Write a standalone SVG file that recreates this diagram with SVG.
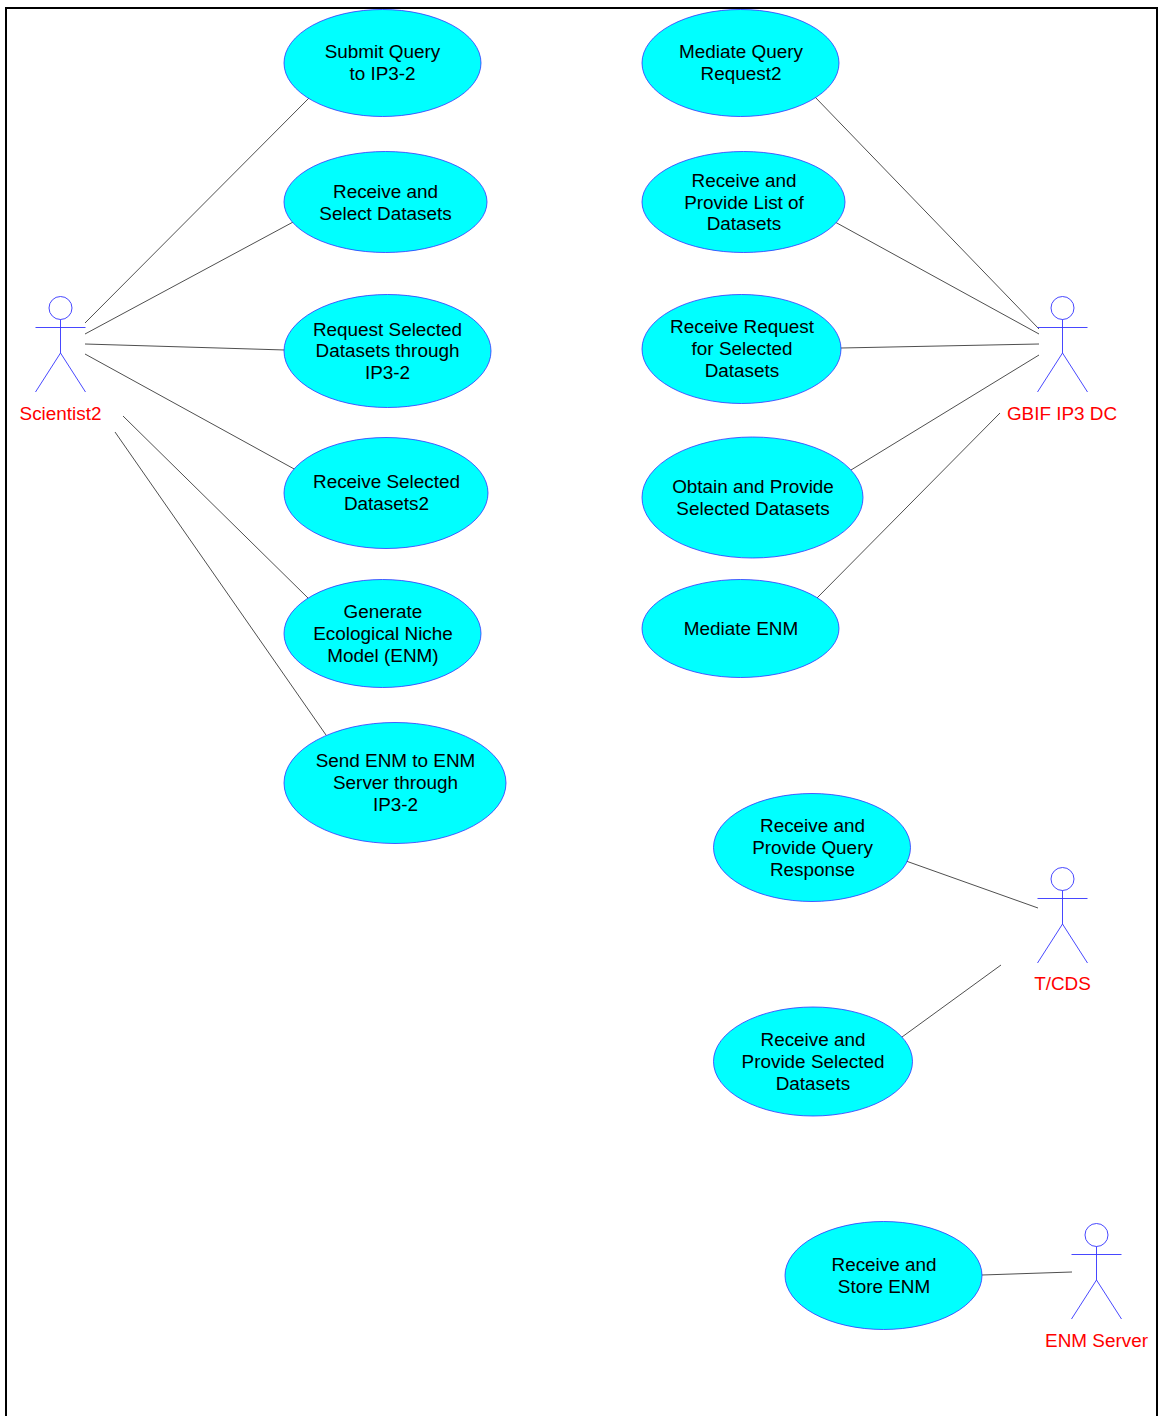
<svg xmlns="http://www.w3.org/2000/svg" width="1173" height="1416" viewBox="0 0 1173 1416">
<style>
.uc{fill:#00ffff;stroke:#3333ff;stroke-width:.8}
.t{font-family:"Liberation Sans",Arial,sans-serif;font-size:18.900px;fill:#000;text-anchor:middle}
.a{font-family:"Liberation Sans",Arial,sans-serif;font-size:18.900px;fill:#ff0000;text-anchor:middle}
.s{fill:none;stroke:#3333ff;stroke-width:.9}
.c{stroke:#222;stroke-width:.8;fill:none}
</style>
<defs>
<g id="stick"><circle class="s" cx="0" cy="0" r="11.500"/><path class="s" d="M0 11.500V45M-25 19.500H25M-25 84L0 45L25 84"/></g>
</defs>
<rect width="1173" height="1416" fill="#fff"/>
<path d="M6 1416V8H1157V1416" fill="none" stroke="#000" stroke-width="2"/>
<g id="connectors">
<path class="c" d="M85 323L310 97M85 334L295 221M85 344L285 350M85 354L296 470M123 416L308 598M115 432L326 735"/>
<path class="c" d="M815 97L1039 329M835 222L1039 334M841 348L1039 344M851 470L1039 355M817 598L1000 413"/>
<path class="c" d="M906 861L1038 908M902 1037L1001 965M982 1275L1072 1272"/>
</g>
<g id="scientist2"><use href="#stick" x="60.500" y="308"/><text class="a" x="60.500" y="420">Scientist2</text></g>
<g id="gbif"><use href="#stick" x="1062.500" y="308"/><text class="a" x="1062" y="420">GBIF IP3 DC</text></g>
<g id="tcds"><use href="#stick" x="1062.500" y="879"/><text class="a" x="1062.500" y="990">T/CDS</text></g>
<g id="enm-server"><use href="#stick" x="1096.500" y="1235"/><text class="a" x="1096.500" y="1347">ENM Server</text></g>
<g id="uc1"><ellipse class="uc" cx="382.500" cy="63" rx="98.500" ry="53.500"/><text class="t" x="382.500" y="58">Submit Query</text><text class="t" x="382.500" y="80">to IP3-2</text></g>
<g id="uc2"><ellipse class="uc" cx="385.500" cy="202" rx="101.500" ry="50.500"/><text class="t" x="385.500" y="198">Receive and</text><text class="t" x="385.500" y="220">Select Datasets</text></g>
<g id="uc3"><ellipse class="uc" cx="387.500" cy="351" rx="103.500" ry="56.500"/><text class="t" x="387.500" y="336">Request Selected</text><text class="t" x="387.500" y="357">Datasets through</text><text class="t" x="387.500" y="379">IP3-2</text></g>
<g id="uc4"><ellipse class="uc" cx="386" cy="493" rx="102" ry="55.500"/><text class="t" x="386.500" y="488">Receive Selected</text><text class="t" x="386.500" y="510">Datasets2</text></g>
<g id="uc5"><ellipse class="uc" cx="382.500" cy="633.500" rx="98.500" ry="54"/><text class="t" x="383" y="618">Generate</text><text class="t" x="383" y="640">Ecological Niche</text><text class="t" x="383" y="662">Model (ENM)</text></g>
<g id="uc6"><ellipse class="uc" cx="395" cy="783" rx="111" ry="60.500"/><text class="t" x="395.500" y="767">Send ENM to ENM</text><text class="t" x="395.500" y="789">Server through</text><text class="t" x="395.500" y="811">IP3-2</text></g>
<g id="uc7"><ellipse class="uc" cx="740.500" cy="63" rx="98.500" ry="53.500"/><text class="t" x="741" y="58">Mediate Query</text><text class="t" x="741" y="80">Request2</text></g>
<g id="uc8"><ellipse class="uc" cx="743.500" cy="202" rx="101.500" ry="50.500"/><text class="t" x="744" y="187">Receive and</text><text class="t" x="744" y="209">Provide List of</text><text class="t" x="744" y="230">Datasets</text></g>
<g id="uc9"><ellipse class="uc" cx="741.500" cy="349" rx="99.500" ry="54.500"/><text class="t" x="742" y="333">Receive Request</text><text class="t" x="742" y="355">for Selected</text><text class="t" x="742" y="377">Datasets</text></g>
<g id="uc10"><ellipse class="uc" cx="752.500" cy="497.500" rx="110.500" ry="60.500"/><text class="t" x="753" y="493">Obtain and Provide</text><text class="t" x="753" y="515">Selected Datasets</text></g>
<g id="uc11"><ellipse class="uc" cx="740.500" cy="628.500" rx="98.500" ry="49"/><text class="t" x="741" y="635">Mediate ENM</text></g>
<g id="uc12"><ellipse class="uc" cx="812" cy="847.500" rx="98.500" ry="54"/><text class="t" x="812.500" y="832">Receive and</text><text class="t" x="812.500" y="854">Provide Query</text><text class="t" x="812.500" y="876">Response</text></g>
<g id="uc13"><ellipse class="uc" cx="813" cy="1061.500" rx="99.500" ry="54.500"/><text class="t" x="813" y="1046">Receive and</text><text class="t" x="813" y="1068">Provide Selected</text><text class="t" x="813" y="1090">Datasets</text></g>
<g id="uc14"><ellipse class="uc" cx="883.500" cy="1275.500" rx="98.500" ry="54"/><text class="t" x="884" y="1271">Receive and</text><text class="t" x="884" y="1293">Store ENM</text></g>
</svg>
